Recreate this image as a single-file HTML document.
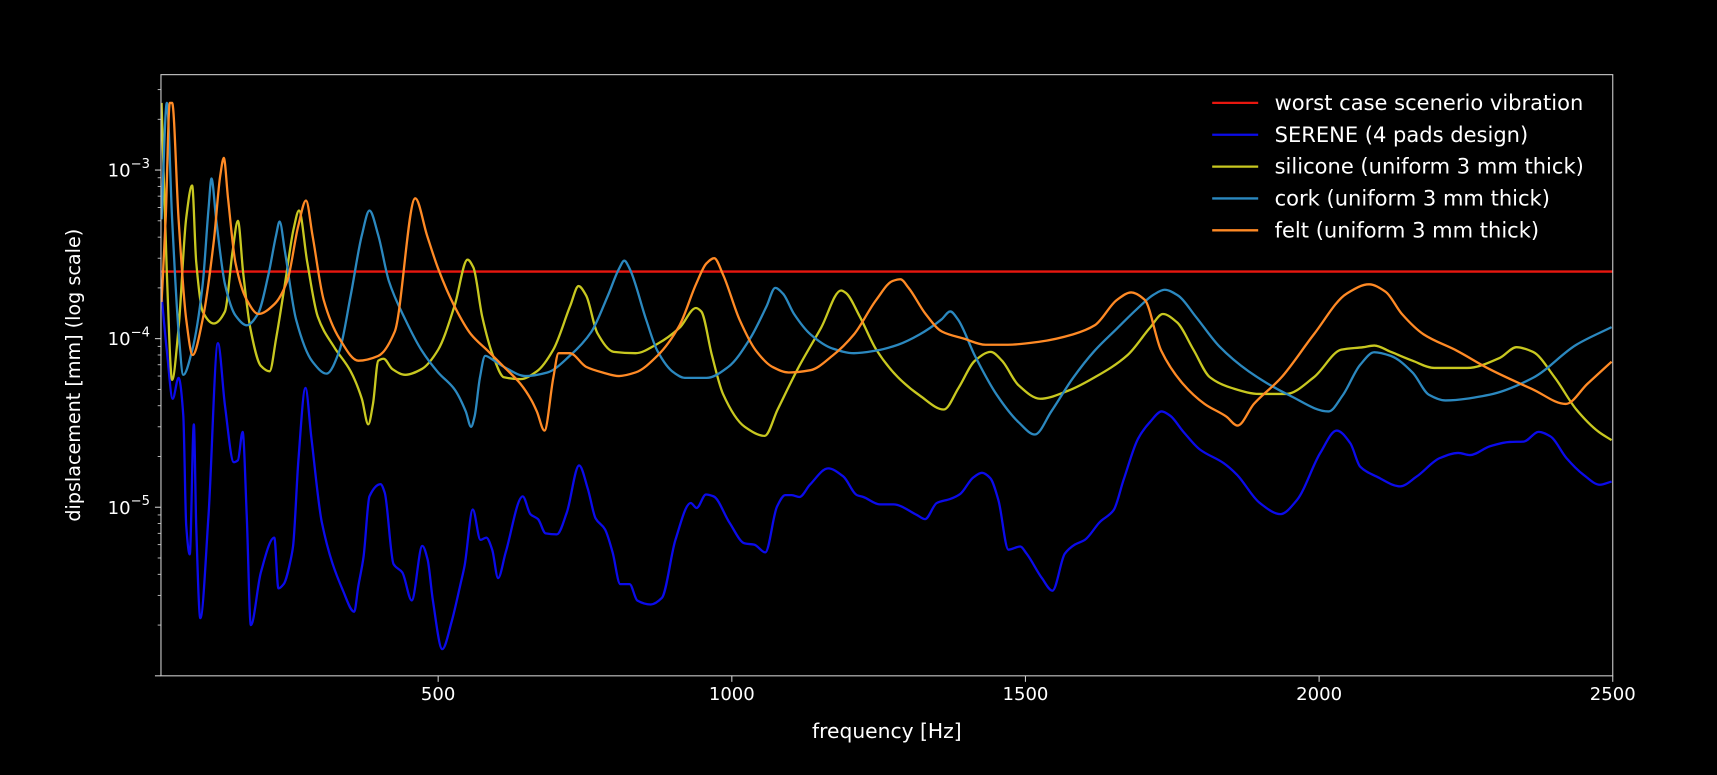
<!DOCTYPE html>
<html><head><meta charset="utf-8">
<style>
html,body{margin:0;padding:0;background:#000;}
svg{display:block;}
text{font-family:"DejaVu Sans","Liberation Sans",sans-serif;fill:#fff;}
</style></head>
<body>
<svg id="chart" width="1717" height="775" viewBox="0 0 1568 708" preserveAspectRatio="none" xmlns="http://www.w3.org/2000/svg">
<rect x="0" y="0" width="1568" height="708" fill="#000"/>
<g id="plot"></g>
<g id="axes"></g>
<g id="legend"></g>
</svg>
<script>
const xDomain=[28,2500];
const yDomain=[1e-6,3.68e-3];
const xTicks=[500,1000,1500,2000,2500];
const xTickLabels=["500","1000","1500","2000","2500"];
const yTickExps=[-3,-4,-5];
const worstCase=2.5e-4;

const freqSil=[29,38,47,58,71,81,88,99,118,137,150,159,168,180,198,213,224,239,254,263,277,295,323,351,370,381,389,398,407,422,444,472,500,528,550,560,575,593,612,640,668,696,725,739,752,771,799,836,873,911,939,948,966,985,1022,1056,1078,1115,1152,1186,1194,1218,1246,1283,1320,1361,1386,1414,1441,1460,1488,1525,1572,1618,1674,1712,1734,1758,1786,1814,1851,1898,1944,1991,2038,2075,2094,2122,2159,2196,2252,2308,2336,2364,2401,2438,2476,2498];
const valSil=[2.5e-3,2.45e-4,5.7e-5,1.16e-4,5.2e-4,8.1e-4,2.85e-4,1.45e-4,1.23e-4,1.45e-4,3.3e-4,5.0e-4,2.45e-4,1.16e-4,6.9e-5,6.4e-5,1.0e-4,2.1e-4,4.5e-4,5.75e-4,2.85e-4,1.35e-4,8.9e-5,6.4e-5,4.4e-5,3.1e-5,4.1e-5,7.4e-5,7.6e-5,6.6e-5,6.1e-5,6.6e-5,8.6e-5,1.57e-4,2.94e-4,2.64e-4,1.35e-4,8.0e-5,5.9e-5,5.75e-5,6.4e-5,8.6e-5,1.57e-4,2.05e-4,1.8e-4,1.08e-4,8.35e-5,8.2e-5,9.3e-5,1.16e-4,1.52e-4,1.45e-4,8.0e-5,4.7e-5,3.0e-5,2.65e-5,3.8e-5,6.9e-5,1.16e-4,1.93e-4,1.87e-4,1.35e-4,8.6e-5,5.9e-5,4.6e-5,3.8e-5,5.1e-5,7.4e-5,8.35e-5,7.4e-5,5.3e-5,4.4e-5,4.9e-5,5.9e-5,8.0e-5,1.16e-4,1.4e-4,1.25e-4,8.6e-5,5.9e-5,5.1e-5,4.7e-5,4.7e-5,5.9e-5,8.6e-5,8.9e-5,9.1e-5,8.35e-5,7.4e-5,6.7e-5,6.7e-5,7.7e-5,8.9e-5,8.35e-5,5.9e-5,3.8e-5,2.8e-5,2.5e-5];

const freqCork=[29,38,47,58,66,81,99,109,114,122,137,155,174,193,211,224,230,239,258,286,310,332,351,370,383,398,416,444,472,500,528,547,556,562,571,580,593,612,649,686,724,761,789,808,817,826,854,873,901,920,957,994,1031,1059,1074,1087,1106,1134,1171,1208,1246,1283,1320,1357,1372,1385,1414,1451,1488,1516,1544,1581,1618,1656,1690,1718,1737,1760,1790,1830,1880,1950,2016,2040,2070,2094,2122,2159,2187,2215,2290,2364,2438,2498];
const valCork=[5.1e-4,2.5e-3,5.1e-4,1.1e-4,6.1e-5,8.5e-5,2.1e-4,5.9e-4,8.9e-4,5.1e-4,2.1e-4,1.37e-4,1.2e-4,1.4e-4,2.4e-4,4.1e-4,4.95e-4,3.3e-4,1.3e-4,7.3e-5,6.2e-5,8.5e-5,1.8e-4,4.1e-4,5.75e-4,4.1e-4,2.2e-4,1.3e-4,8.5e-5,6.3e-5,5.0e-5,3.7e-5,3.0e-5,3.45e-5,5.85e-5,7.9e-5,7.5e-5,6.8e-5,6.0e-5,6.3e-5,7.9e-5,1.1e-4,1.8e-4,2.6e-4,2.9e-4,2.6e-4,1.3e-4,8.5e-5,6.3e-5,5.85e-5,5.85e-5,6.8e-5,1.0e-4,1.55e-4,2.0e-4,1.85e-4,1.4e-4,1.06e-4,8.75e-5,8.2e-5,8.5e-5,9.2e-5,1.06e-4,1.3e-4,1.45e-4,1.3e-4,7.9e-5,4.65e-5,3.2e-5,2.7e-5,3.7e-5,5.85e-5,8.5e-5,1.15e-4,1.5e-4,1.82e-4,1.95e-4,1.8e-4,1.35e-4,9.0e-5,6.4e-5,4.6e-5,3.7e-5,4.6e-5,7.0e-5,8.3e-5,7.9e-5,6.3e-5,4.65e-5,4.3e-5,4.65e-5,5.85e-5,9.2e-5,1.17e-4];

const freqFelt=[29,36,43,47,58,71,82,99,118,129,135,142,155,174,194,221,243,262,275,286,305,332,364,398,426,461,481,500,528,556,584,612,640,659,668,681,696,705,724,752,780,808,836,873,911,939,957,970,985,1013,1041,1069,1097,1134,1171,1208,1246,1274,1287,1301,1330,1358,1395,1432,1470,1525,1581,1618,1656,1680,1703,1731,1768,1805,1842,1861,1889,1935,1991,2047,2085,2113,2141,2178,2234,2290,2364,2420,2457,2498];
const valFelt=[1.65e-4,5.1e-4,2.5e-3,2.5e-3,5.1e-4,1.3e-4,8.0e-5,1.3e-4,3.8e-4,9.3e-4,1.18e-3,6.9e-4,2.8e-4,1.7e-4,1.4e-4,1.6e-4,2.2e-4,4.7e-4,6.6e-4,4.1e-4,1.7e-4,1.0e-4,7.4e-5,7.9e-5,1.1e-4,6.8e-4,4.1e-4,2.6e-4,1.55e-4,1.06e-4,8.5e-5,6.8e-5,5.4e-5,4.3e-5,3.7e-5,2.85e-5,5.85e-5,8.2e-5,8.2e-5,6.8e-5,6.3e-5,6.0e-5,6.3e-5,7.9e-5,1.2e-4,2.1e-4,2.8e-4,3.0e-4,2.4e-4,1.3e-4,8.5e-5,6.8e-5,6.3e-5,6.5e-5,7.9e-5,1.06e-4,1.7e-4,2.2e-4,2.25e-4,2.0e-4,1.4e-4,1.1e-4,1.0e-4,9.2e-5,9.2e-5,9.6e-5,1.06e-4,1.2e-4,1.7e-4,1.88e-4,1.7e-4,8.5e-5,5.4e-5,4.1e-5,3.45e-5,3.05e-5,4.1e-5,5.85e-5,1.06e-4,1.85e-4,2.1e-4,1.9e-4,1.4e-4,1.06e-4,8.5e-5,6.6e-5,5.0e-5,4.1e-5,5.4e-5,7.3e-5];

const freqSerene=[29,38,48,58,66,71,77,84,88,95,109,125,137,152,159,167,174,181,198,221,228,237,250,253,262,274,284,302,338,357,364,373,383,402,409,424,439,455,473,482,491,507,523,538,545,559,572,582,592,602,615,644,657,670,683,702,719,740,755,768,784,797,810,826,839,862,881,904,930,940,956,969,996,1022,1038,1057,1077,1091,1102,1115,1133,1164,1190,1213,1224,1252,1275,1315,1329,1349,1372,1389,1411,1426,1440,1454,1471,1491,1502,1528,1546,1567,1584,1601,1627,1650,1667,1692,1712,1732,1746,1769,1797,1837,1860,1899,1934,1962,2002,2030,2053,2070,2098,2138,2166,2206,2237,2257,2291,2325,2348,2374,2394,2421,2450,2478,2498];
const valSerene=[1.8e-4,8.5e-5,4.4e-5,5.85e-5,3.5e-5,7.8e-6,5.25e-6,3.1e-5,7.8e-6,2.2e-6,9.0e-6,9.4e-5,4.0e-5,1.85e-5,1.9e-5,2.8e-5,9.0e-6,2.0e-6,4.1e-6,6.6e-6,3.3e-6,3.5e-6,5.1e-6,5.9e-6,1.9e-5,5.1e-5,2.6e-5,8.1e-6,3.2e-6,2.4e-6,3.4e-6,5.1e-6,1.16e-5,1.37e-5,1.22e-5,4.6e-6,4.1e-6,2.8e-6,5.9e-6,4.9e-6,2.8e-6,1.44e-6,2.1e-6,3.5e-6,4.5e-6,9.7e-6,6.4e-6,6.6e-6,5.6e-6,3.8e-6,5.4e-6,1.16e-5,9.1e-6,8.5e-6,7.0e-6,6.9e-6,9.3e-6,1.77e-5,1.28e-5,8.6e-6,7.4e-6,5.4e-6,3.5e-6,3.5e-6,2.8e-6,2.65e-6,2.9e-6,6.4e-6,1.06e-5,9.9e-6,1.19e-5,1.16e-5,8.1e-6,6.1e-6,6.0e-6,5.4e-6,1.01e-5,1.18e-5,1.18e-5,1.15e-5,1.36e-5,1.7e-5,1.52e-5,1.18e-5,1.15e-5,1.04e-5,1.04e-5,9.0e-6,8.5e-6,1.06e-5,1.12e-5,1.2e-5,1.5e-5,1.6e-5,1.49e-5,1.1e-5,5.6e-6,5.85e-6,5.3e-6,3.8e-6,3.2e-6,5.3e-6,6.0e-6,6.4e-6,8.2e-6,9.6e-6,1.45e-5,2.56e-5,3.2e-5,3.7e-5,3.5e-5,2.8e-5,2.2e-5,1.83e-5,1.56e-5,1.06e-5,9.1e-6,1.1e-5,2.1e-5,2.85e-5,2.4e-5,1.74e-5,1.52e-5,1.33e-5,1.52e-5,1.96e-5,2.1e-5,2.04e-5,2.3e-5,2.44e-5,2.45e-5,2.8e-5,2.63e-5,1.96e-5,1.56e-5,1.36e-5,1.42e-5];

const seriesNames=["worst case scenerio vibration","SERENE (4 pads design)","silicone (uniform 3 mm thick)","cork (uniform 3 mm thick)","felt (uniform 3 mm thick)"];

const L=147,R=1472.8,T=68.2,B=617.4;
const NS="http://www.w3.org/2000/svg";
function xS(f){return L+(f-xDomain[0])/(xDomain[1]-xDomain[0])*(R-L);}
function yS(v){const a=Math.log10(yDomain[0]),b=Math.log10(yDomain[1]);return B-(Math.log10(v)-a)/(b-a)*(B-T);}
function mk(tag,attrs,parent){const e=document.createElementNS(NS,tag);for(const k in attrs)e.setAttribute(k,attrs[k]);parent.appendChild(e);return e;}

function monoPath(xs,ys){
  const n=xs.length;const d=[],m=new Array(n);
  for(let i=0;i<n-1;i++)d.push((ys[i+1]-ys[i])/(xs[i+1]-xs[i]));
  m[0]=d[0];m[n-1]=d[n-2];
  for(let i=1;i<n-1;i++){if(d[i-1]*d[i]<=0)m[i]=0;else{const w1=2*(xs[i+1]-xs[i])+(xs[i]-xs[i-1]),w2=(xs[i+1]-xs[i])+2*(xs[i]-xs[i-1]);m[i]=(w1+w2)/(w1/d[i-1]+w2/d[i]);}}
  let p="M"+xs[0].toFixed(2)+","+ys[0].toFixed(2);
  for(let i=0;i<n-1;i++){const h=(xs[i+1]-xs[i])/3;
    p+="C"+(xs[i]+h).toFixed(2)+","+(ys[i]+m[i]*h).toFixed(2)+" "+(xs[i+1]-h).toFixed(2)+","+(ys[i+1]-m[i+1]*h).toFixed(2)+" "+xs[i+1].toFixed(2)+","+ys[i+1].toFixed(2);}
  return p;
}

const svg=document.getElementById('chart');
const plot=document.getElementById('plot');
const axes=document.getElementById('axes');
const legend=document.getElementById('legend');
const defs=mk('defs',{},svg);
const cp=mk('clipPath',{id:'clip'},defs);
mk('rect',{x:L,y:T,width:R-L,height:B-T},cp);
plot.setAttribute('clip-path','url(#clip)');

const colors=["#e8170f","#0b0bea","#c8c820","#2b88bf","#ff8a25"];
const LW=2.1;

const wl=mk('line',{x1:xS(xDomain[0]),x2:xS(xDomain[1]),y1:yS(worstCase),y2:yS(worstCase),stroke:colors[0],'stroke-width':LW},plot);



function drawSeries(fr,vals,color,name){
  const p=mk('path',{d:monoPath(fr.map(xS),vals.map(yS)),fill:'none',stroke:color,'stroke-width':LW,'stroke-linejoin':'round'},plot);
  
  
}
drawSeries(freqSerene,valSerene,colors[1],'serene-line');
drawSeries(freqSil,valSil,colors[2],'silicone-line');
drawSeries(freqCork,valCork,colors[3],'cork-line');
drawSeries(freqFelt,valFelt,colors[4],'felt-line');

const sp=mk('rect',{x:L,y:T,width:R-L,height:B-T,fill:'none',stroke:'#cccccc','stroke-width':1},axes);



xTicks.forEach((t,i)=>{
  const x=xS(t);
  const tl=mk('line',{x1:x,x2:x,y1:B,y2:B+5.5,stroke:'#cccccc','stroke-width':1},axes);
  
  
  const tx=mk('text',{x:x,y:B+22,'text-anchor':'middle','font-size':16.5},axes);
  tx.textContent=xTickLabels[i];
  
  
});
for(let e=-6;e<=-3;e++){
  for(let k=1;k<10;k++){
    const v=k*Math.pow(10,e);
    if(v<yDomain[0]*0.999||v>yDomain[1])continue;
    const y=yS(v);
    const tl=mk('line',{x1:L-(k===1?5.5:3),x2:L,y1:y,y2:y,stroke:'#cccccc','stroke-width':k===1?1:0.8},axes);
    
    
  }
}
yTickExps.forEach(e=>{
  const y=yS(Math.pow(10,e));
  const tx=mk('text',{x:L-10,y:y+6,'text-anchor':'end','font-size':16.5},axes);
  
  
  const t1=mk('tspan',{},tx);t1.textContent='10';
  const t2=mk('tspan',{dy:-8,'font-size':12},tx);t2.textContent='\u2212'+(-e);
});
const xl=mk('text',{x:(L+R)/2,y:674,'text-anchor':'middle','font-size':18.5},axes);
xl.textContent='frequency [Hz]';


const yl=mk('text',{x:0,y:0,'text-anchor':'middle','font-size':17.5,transform:'translate(73,'+((T+B)/2)+') rotate(-90)'},axes);
yl.textContent='dipslacement [mm] (log scale)';



const legNames=['legend-worst-case','legend-serene','legend-silicone','legend-cork','legend-felt'];
seriesNames.forEach((nm,i)=>{
  const y=94+i*29.1;
  const g=mk('g',{},legend);
  
  
  mk('line',{x1:1107,x2:1149,y1:y,y2:y,stroke:colors[i],'stroke-width':LW},g);
  const t=mk('text',{x:1164,y:y+6.5,'font-size':19.2},g);
  t.textContent=nm;
});
</script>
</body></html>
